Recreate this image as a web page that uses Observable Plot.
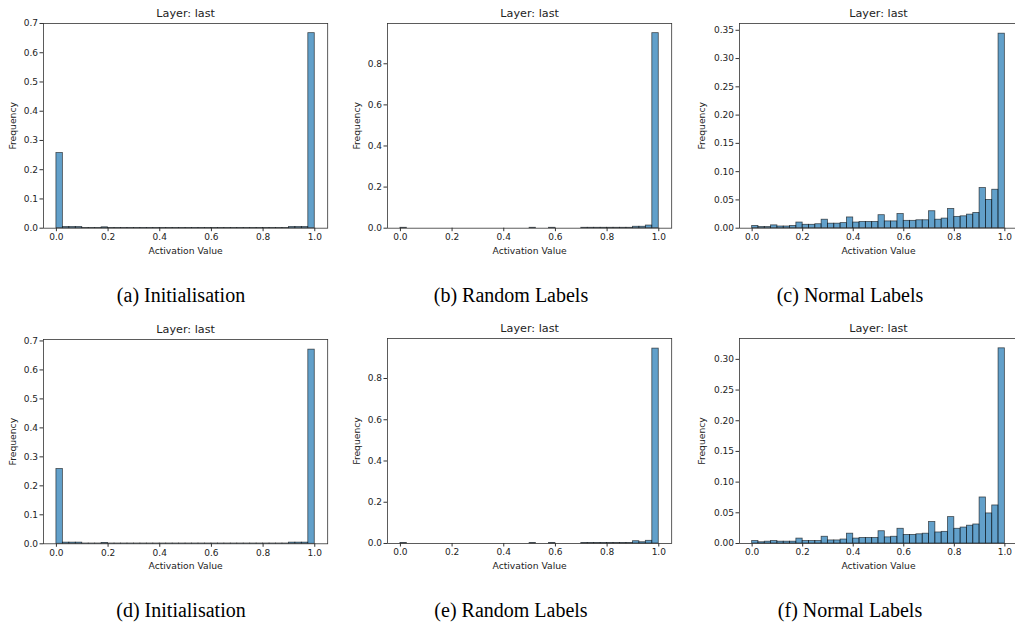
<!DOCTYPE html>
<html>
<head>
<meta charset="utf-8">
<script src="https://cdn.jsdelivr.net/npm/d3@7"></script>
<script src="https://cdn.jsdelivr.net/npm/@observablehq/plot@0.6"></script>
<style>
  html, body { margin: 0; padding: 0; background: #fff; }
  #fig { position: relative; width: 1015px; height: 625px; overflow: hidden; background: #fff; }
  #fig svg { position: absolute; }
  .cap { position: absolute; font-family: "Liberation Serif", "Times New Roman", serif; font-size: 20px; color: #000; transform: translate(-50%, -50%); white-space: nowrap; }
</style>
</head>
<body>
<div id="fig"></div>
<script>
// ---- data ----
const binWidth = 0.025; // 40 bins over [0, 1]
const panelTitle = "Layer: last";
const xLabel = "Activation Value";
const yLabel = "Frequency";
const xTicks = [0.0, 0.2, 0.4, 0.6, 0.8, 1.0];
const captions = ["(a) Initialisation", "(b) Random Labels", "(c) Normal Labels",
                  "(d) Initialisation", "(e) Random Labels", "(f) Normal Labels"];

const initA = [0.257, 0.004, 0.004, 0.004, 0.001, 0.001, 0.001, 0.003, 0.001, 0.001,
               0.001, 0.001, 0.001, 0.001, 0.001, 0.001, 0.001, 0.001, 0.001, 0.001,
               0.001, 0.001, 0.001, 0.001, 0.001, 0.001, 0.001, 0.001, 0.001, 0.001,
               0.001, 0.001, 0.001, 0.001, 0.001, 0.001, 0.004, 0.004, 0.004, 0.667];
const randomB = [0.002, 0, 0, 0, 0, 0, 0, 0, 0, 0,
                 0, 0, 0, 0, 0, 0, 0, 0, 0, 0,
                 0.002, 0, 0, 0.002, 0, 0, 0, 0, 0.002, 0.002,
                 0.002, 0.002, 0.002, 0.002, 0.002, 0.002, 0.007, 0.007, 0.013, 0.949];
const normalC = [0.004, 0.002, 0.002, 0.005, 0.003, 0.003, 0.004, 0.010, 0.006, 0.006,
                 0.007, 0.015, 0.008, 0.008, 0.009, 0.019, 0.010, 0.011, 0.011, 0.011,
                 0.023, 0.012, 0.012, 0.025, 0.013, 0.013, 0.014, 0.014, 0.030, 0.015,
                 0.017, 0.034, 0.020, 0.021, 0.024, 0.027, 0.071, 0.050, 0.068, 0.344];
const initD = [0.258, 0.004, 0.004, 0.004, 0.001, 0.001, 0.001, 0.003, 0.001, 0.001,
               0.001, 0.001, 0.001, 0.001, 0.001, 0.001, 0.001, 0.001, 0.001, 0.001,
               0.001, 0.001, 0.001, 0.001, 0.001, 0.001, 0.001, 0.001, 0.001, 0.001,
               0.001, 0.001, 0.001, 0.001, 0.001, 0.001, 0.004, 0.004, 0.004, 0.670];
const randomE = [0.002, 0, 0, 0, 0, 0, 0, 0, 0, 0,
                 0, 0, 0, 0, 0, 0, 0, 0, 0, 0,
                 0.002, 0, 0, 0.002, 0, 0, 0, 0, 0.002, 0.002,
                 0.002, 0.002, 0.002, 0.002, 0.002, 0.002, 0.011, 0.006, 0.013, 0.945];
const normalF = [0.004, 0.002, 0.003, 0.004, 0.003, 0.003, 0.003, 0.008, 0.004, 0.004,
                 0.004, 0.011, 0.005, 0.005, 0.0065, 0.016, 0.008, 0.009, 0.009, 0.009,
                 0.020, 0.010, 0.011, 0.024, 0.014, 0.014, 0.015, 0.016, 0.035, 0.018,
                 0.019, 0.043, 0.024, 0.026, 0.029, 0.031, 0.075, 0.049, 0.062, 0.318];

const yTicksInit = [0.0, 0.1, 0.2, 0.3, 0.4, 0.5, 0.6, 0.7];
const yTicksRandom = [0.0, 0.2, 0.4, 0.6, 0.8];
const yTicksNormalC = [0.00, 0.05, 0.10, 0.15, 0.20, 0.25, 0.30, 0.35];
const yTicksNormalF = [0.00, 0.05, 0.10, 0.15, 0.20, 0.25, 0.30];

// ---- layout (frame edges in page pixels) ----
const panels = [
  {values: initA,   yTicks: yTicksInit,    fmt: ".1f", yMax: 0.700, fl: 42.8,  fr: 327.0,  ft: 23.3,  fb: 228.0, yLabDx: -30, cap: [181, 295]},
  {values: randomB, yTicks: yTicksRandom,  fmt: ".1f", yMax: 0.996, fl: 387.0, fr: 671.2,  ft: 23.3,  fb: 228.0, yLabDx: -30, cap: [511, 295]},
  {values: normalC, yTicks: yTicksNormalC, fmt: ".2f", yMax: 0.362, fl: 738.7, fr: 1016.7, ft: 23.3,  fb: 228.0, yLabDx: -37, cap: [850, 295]},
  {values: initD,   yTicks: yTicksInit,    fmt: ".1f", yMax: 0.705, fl: 42.8,  fr: 327.0,  ft: 339.0, fb: 543.3, yLabDx: -30, cap: [181, 610]},
  {values: randomE, yTicks: yTicksRandom,  fmt: ".1f", yMax: 0.994, fl: 387.0, fr: 671.2,  ft: 338.3, fb: 543.3, yLabDx: -30, cap: [511, 610]},
  {values: normalF, yTicks: yTicksNormalF, fmt: ".2f", yMax: 0.334, fl: 738.7, fr: 1016.7, ft: 338.3, fb: 543.3, yLabDx: -37, cap: [850, 610]}
];

const fig = document.getElementById("fig");
const ML = 46, MT = 24, MR = 8, MB = 40;

panels.forEach((p, k) => {
  const data = p.values.map((v, i) => ({x0: i * binWidth, x1: (i + 1) * binWidth, v}));
  const chart = Plot.plot({
    width: (p.fr - p.fl) + ML + MR,
    height: (p.fb - p.ft) + MT + MB,
    marginLeft: ML, marginTop: MT, marginRight: MR, marginBottom: MB,
    style: {fontFamily: "DejaVu Sans, sans-serif", color: "#222", background: "transparent", overflow: "visible"},
    x: {domain: [-0.05, 1.05]},
    y: {domain: [0, p.yMax]},
    marks: [
      Plot.rectY(data, {filter: d => d.v > 0, x1: "x0", x2: "x1", y: "v",
        fill: "#1f77b4", fillOpacity: 0.7, stroke: "#000", strokeOpacity: 0.65, strokeWidth: 0.8}),
      Plot.frame({stroke: "#333", strokeWidth: 0.8}),
      Plot.axisX({ticks: xTicks, tickFormat: d3.format(".1f"), tickSize: 3.5, tickPadding: 2,
        fontSize: 9, label: null, stroke: "#333"}),
      Plot.axisY({ticks: p.yTicks, tickFormat: d3.format(p.fmt), tickSize: 3.5, tickPadding: 2,
        fontSize: 9, label: null, stroke: "#333"}),
      Plot.text([panelTitle], {text: d => d, frameAnchor: "top", dy: -10, lineAnchor: "middle", fontSize: 11.2, fill: "#222"}),
      Plot.text([xLabel], {text: d => d, frameAnchor: "bottom", dy: 22.7, lineAnchor: "middle", fontSize: 9.2, fill: "#222"}),
      Plot.text([yLabel], {text: d => d, frameAnchor: "left", dx: p.yLabDx, rotate: -90, lineAnchor: "middle", textAnchor: "middle", fontSize: 9.2, fill: "#222"})
    ]
  });
  chart.style.left = (p.fl - ML) + "px";
  chart.style.top = (p.ft - MT) + "px";
  fig.appendChild(chart);

  const cap = document.createElement("div");
  cap.className = "cap";
  cap.textContent = captions[k];
  cap.style.left = p.cap[0] + "px";
  cap.style.top = p.cap[1] + "px";
  fig.appendChild(cap);
});
</script>
</body>
</html>
